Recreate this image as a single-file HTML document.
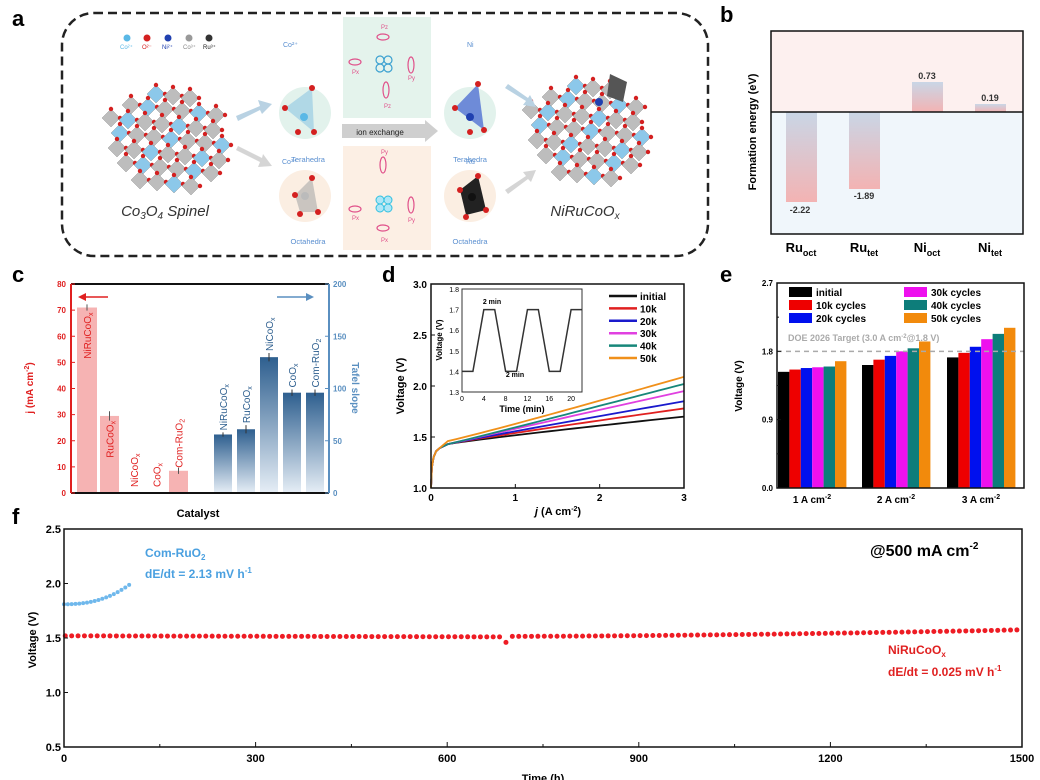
<!DOCTYPE html>
<html><head><meta charset="utf-8">
<style>
html,body{margin:0;padding:0;background:#fff;}
svg{display:block;font-family:"Liberation Sans",Arial,sans-serif;}
.b{font-weight:bold;}
</style></head>
<body>
<svg id="s" width="1040" height="780" viewBox="0 0 1040 780" xmlns="http://www.w3.org/2000/svg">
<defs>
<linearGradient id="gb" x1="0" y1="0" x2="0" y2="1"><stop offset="0" stop-color="#c9d6e6"/><stop offset="1" stop-color="#f3b3b3"/></linearGradient>
<linearGradient id="gblue" x1="0" y1="0" x2="0" y2="1"><stop offset="0" stop-color="#2e5f8f"/><stop offset="1" stop-color="#e6eef6"/></linearGradient>
</defs>
<text x="12" y="26" font-size="22" class="b">a</text>
<text x="720" y="22" font-size="22" class="b">b</text>
<text x="12" y="282" font-size="22" class="b">c</text>
<text x="382" y="282" font-size="22" class="b">d</text>
<text x="720" y="282" font-size="22" class="b">e</text>
<text x="12" y="524" font-size="22" class="b">f</text>

<!-- PANEL A -->
<rect x="62" y="13" width="646" height="243" rx="32" fill="none" stroke="#222" stroke-width="2.5" stroke-dasharray="9,5"/>
<g font-size="6">
<circle cx="127" cy="38" r="3.5" fill="#5ab8e6"/><circle cx="147" cy="38" r="3.5" fill="#d42020"/><circle cx="168" cy="38" r="3.5" fill="#2040b0"/><circle cx="189" cy="38" r="3.5" fill="#999"/><circle cx="209" cy="38" r="3.5" fill="#333"/>
<text x="120" y="49" fill="#5ab8e6">Co²⁺</text><text x="142" y="49" fill="#d42020">O²⁻</text><text x="162" y="49" fill="#2040b0">Ni²⁺</text><text x="183" y="49" fill="#888">Co³⁺</text><text x="203" y="49" fill="#222">Ru³⁺</text>
</g>
<g id="crys1"></g>
<text x="165" y="216" font-size="15" font-style="italic" text-anchor="middle" fill="#333">Co<tspan font-size="10" dy="3">3</tspan><tspan dy="-3">O</tspan><tspan font-size="10" dy="3">4</tspan><tspan dy="-3"> Spinel</tspan></text>
<text x="585" y="216" font-size="15" font-style="italic" text-anchor="middle" fill="#333">NiRuCoO<tspan font-size="10" dy="3">x</tspan></text>
<polygon points="236,116 260,106 258,100 272,104 262,114 260,110 238,121" fill="#b9d2e3"/>
<polygon points="236,150 260,162 258,167 272,166 263,154 262,158 238,146" fill="#d5d5d5"/>
<polygon points="505,88 526,101 523,105 536,107 530,95 528,98 508,84" fill="#b9d2e3"/>
<polygon points="505,190 526,176 523,172 536,170 531,182 528,179 508,194" fill="#d5d5d5"/>
<circle cx="305" cy="113" r="26" fill="#e2f2ec"/><circle cx="305" cy="196" r="26" fill="#fbeee2"/>
<circle cx="470" cy="113" r="26" fill="#e2f2ec"/><circle cx="470" cy="196" r="26" fill="#fbeee2"/>
<polygon points="285,108 312,88 314,132" fill="#8fc6e2" opacity=".6"/>
<polygon points="455,108 478,84 484,130" fill="#3d5fd0" opacity=".7"/>
<polygon points="295,195 312,178 318,212 300,212" fill="#aaa" opacity=".6"/>
<polygon points="460,190 478,176 486,210 466,215" fill="#222"/>
<g fill="#d42020"><circle cx="285" cy="108" r="3"/><circle cx="312" cy="88" r="3"/><circle cx="314" cy="132" r="3"/><circle cx="298" cy="132" r="3"/>
<circle cx="455" cy="108" r="3"/><circle cx="478" cy="84" r="3"/><circle cx="484" cy="130" r="3"/><circle cx="470" cy="132" r="3"/>
<circle cx="295" cy="195" r="3"/><circle cx="312" cy="178" r="3"/><circle cx="318" cy="212" r="3"/><circle cx="300" cy="214" r="3"/>
<circle cx="460" cy="190" r="3"/><circle cx="478" cy="176" r="3"/><circle cx="486" cy="210" r="3"/><circle cx="466" cy="217" r="3"/></g>
<circle cx="304" cy="117" r="4" fill="#5ab8e6"/><circle cx="470" cy="117" r="4" fill="#2040b0"/><circle cx="305" cy="196" r="4" fill="#bbb"/><circle cx="472" cy="197" r="4" fill="#111"/>
<g font-size="7" fill="#5a8fd0"><text x="283" y="47">Co²⁺</text><text x="282" y="164">Co³⁺</text><text x="467" y="47">Ni</text><text x="466" y="164">Ru</text></g>
<g font-size="7.5" fill="#5a8fd0" text-anchor="middle"><text x="308" y="162">Terahedra</text><text x="308" y="244">Octahedra</text><text x="470" y="162">Terahedra</text><text x="470" y="244">Octahedra</text></g>
<rect x="343" y="17" width="88" height="101" fill="#e4f3ec"/>
<rect x="343" y="146" width="88" height="104" fill="#fcefe4"/>
<polygon points="342,124 425,124 425,120 438,131 425,142 425,138 342,138" fill="#cfcfcf"/>
<text x="380" y="135" font-size="8" text-anchor="middle" fill="#222">ion exchange</text>
<g fill="none" stroke="#e0508a" stroke-width="1.2">
<ellipse cx="383" cy="37" rx="6" ry="3"/><ellipse cx="355" cy="62" rx="6" ry="3"/><ellipse cx="411" cy="65" rx="3" ry="8"/><ellipse cx="386" cy="90" rx="3" ry="8"/>
<ellipse cx="383" cy="165" rx="3" ry="8"/><ellipse cx="355" cy="209" rx="6" ry="3"/><ellipse cx="411" cy="205" rx="3" ry="8"/><ellipse cx="383" cy="228" rx="6" ry="3"/></g>
<g fill="none" stroke="#3aa0d0" stroke-width="1.2"><circle cx="380" cy="60" r="4"/><circle cx="388" cy="60" r="4"/><circle cx="380" cy="68" r="4"/><circle cx="388" cy="68" r="4"/></g>
<g fill="#aee6f6" stroke="#30c0e0" stroke-width="1"><circle cx="380" cy="200" r="4"/><circle cx="388" cy="200" r="4"/><circle cx="380" cy="208" r="4"/><circle cx="388" cy="208" r="4"/></g>
<g font-size="6" fill="#e0508a"><text x="381" y="29">Pz</text><text x="352" y="74">Px</text><text x="408" y="80">Py</text><text x="384" y="108">Pz</text><text x="381" y="154">Py</text><text x="352" y="220">Px</text><text x="408" y="222">Py</text><text x="381" y="242">Px</text></g>

<!-- PANEL B -->
<rect x="771" y="31" width="252" height="81" fill="#fdf0ef"/>
<rect x="771" y="112" width="252" height="122" fill="#f0f6fb"/>
<rect x="786" y="112" width="31" height="90" fill="url(#gb)"/>
<rect x="849" y="112" width="31" height="77" fill="url(#gb)"/>
<rect x="912" y="82" width="31" height="30" fill="url(#gb)"/>
<rect x="975" y="104" width="31" height="8" fill="url(#gb)"/>
<line x1="771" y1="112" x2="1023" y2="112" stroke="#111" stroke-width="1.5"/>
<rect x="771" y="31" width="252" height="203" fill="none" stroke="#111" stroke-width="1.5"/>
<g font-size="9" class="b" text-anchor="middle" fill="#333"><text x="800" y="213">-2.22</text><text x="864" y="199">-1.89</text><text x="927" y="79">0.73</text><text x="990" y="101">0.19</text></g>
<g font-size="13" class="b" text-anchor="middle"><text x="801" y="252">Ru<tspan font-size="9" dy="4">oct</tspan></text><text x="864" y="252">Ru<tspan font-size="9" dy="4">tet</tspan></text><text x="927" y="252">Ni<tspan font-size="9" dy="4">oct</tspan></text><text x="990" y="252">Ni<tspan font-size="9" dy="4">tet</tspan></text></g>
<text transform="translate(756,132) rotate(-90)" font-size="11" class="b" text-anchor="middle">Formation energy (eV)</text>

<g id="pc"></g>
<g id="pd"></g>
<g id="pe"></g>
<g id="pf"></g>
</svg>
<script>
var NS="http://www.w3.org/2000/svg";
function el(p,t,a,txt){var e=document.createElementNS(NS,t);for(var k in a)e.setAttribute(k,a[k]);if(txt!==undefined)e.innerHTML=txt;document.getElementById(p).appendChild(e);return e;}
(function(){
 function crystal(cx,cy,seed,extra){
  for(var i=0;i<7;i++)for(var j=0;j<7;j++){
   var x=cx-60+i*17+j*3+ (j%2)*6, y=cy-52+j*15+i*2;
   var dx=x-cx,dy=y-cy;if(dx*dx/3600+dy*dy/2800>1)continue;
   var col=((i+j)%3==0)?"#8cc8ea":"#bdbdbd";
   el("crys1","polygon",{points:(x)+","+(y-9)+" "+(x+9)+","+y+" "+x+","+(y+9)+" "+(x-9)+","+y,fill:col,stroke:"#888","stroke-width":.4});
   el("crys1","circle",{cx:x,cy:y-9,r:2.2,fill:"#d42020"});
   el("crys1","circle",{cx:x+9,cy:y,r:2.2,fill:"#d42020"});
  }
  if(extra){el("crys1","polygon",{points:(cx+25)+","+(cy-58)+" "+(cx+42)+","+(cy-50)+" "+(cx+38)+","+(cy-30)+" "+(cx+22)+","+(cy-36),fill:"#555"});
   el("crys1","circle",{cx:cx+14,cy:cy-30,r:4,fill:"#2040b0"});}
 }
 crystal(165,140,7,false);crystal(585,132,11,true);
})();
// PANEL C
(function(){
 var L=71,R=329,T=284,B=493;function yl(v){return B-v/80*(B-T);}function yr(v){return B-v/200*(B-T);}
 var red=[[77,97,71,1.2,"NiRuCoO<tspan font-size='7' dy='2'>x</tspan>"],[100,119,29.5,1.8,"RuCoO<tspan font-size='7' dy='2'>x</tspan>"],[124,144,0,0,"NiCoO<tspan font-size='7' dy='2'>x</tspan>"],[147,166,0,0,"CoO<tspan font-size='7' dy='2'>x</tspan>"],[169,188,8.5,1.2,"Com-RuO<tspan font-size='7' dy='2'>2</tspan>"]];
 red.forEach(function(b){ if(b[2]>0){el("pc","rect",{x:b[0],y:yl(b[2]),width:b[1]-b[0],height:B-yl(b[2]),fill:"#f6b3b3"});
   el("pc","line",{x1:(b[0]+b[1])/2,x2:(b[0]+b[1])/2,y1:yl(b[2]+b[3]),y2:yl(b[2]-b[3]),stroke:"#555"});}
  var tx=(b[0]+b[1])/2+4, ty=b[2]>20?yl(b[2])+5:(b[2]>0?yl(b[2])-3:B-6);
  var anchor=b[2]>20?"end":"start";
  el("pc","text",{transform:"translate("+tx+","+ty+") rotate(-90)","font-size":10,fill:"#e02020","text-anchor":anchor},b[4]);});
 var blue=[[214,232,56,2,"NiRuCoO<tspan font-size='7' dy='2'>x</tspan>"],[237,255,61,4,"RuCoO<tspan font-size='7' dy='2'>x</tspan>"],[260,278,130,4,"NiCoO<tspan font-size='7' dy='2'>x</tspan>"],[283,301,96,3,"CoO<tspan font-size='7' dy='2'>x</tspan>"],[306,324,96,3,"Com-RuO<tspan font-size='7' dy='2'>2</tspan>"]];
 blue.forEach(function(b){el("pc","rect",{x:b[0],y:yr(b[2]),width:b[1]-b[0],height:B-yr(b[2]),fill:"url(#gblue)"});
  el("pc","line",{x1:(b[0]+b[1])/2,x2:(b[0]+b[1])/2,y1:yr(b[2]+b[3]),y2:yr(b[2]-b[3]),stroke:"#333"});
  el("pc","text",{transform:"translate("+((b[0]+b[1])/2+4)+","+(yr(b[2]+b[3])-2)+") rotate(-90)","font-size":10,fill:"#2e5f8f"},b[4]);});
 el("pc","line",{x1:L,x2:R,y1:T,y2:T,stroke:"#111","stroke-width":2});
 el("pc","line",{x1:L,x2:R,y1:B,y2:B,stroke:"#111","stroke-width":2});
 el("pc","line",{x1:L,x2:L,y1:T,y2:B,stroke:"#e02020","stroke-width":2});
 el("pc","line",{x1:R,x2:R,y1:T,y2:B,stroke:"#5a8fc0","stroke-width":2});
 for(var v=0;v<=80;v+=10){el("pc","line",{x1:L,x2:L+4,y1:yl(v),y2:yl(v),stroke:"#e02020"});el("pc","text",{x:L-5,y:yl(v)+3,"font-size":8,"text-anchor":"end",fill:"#e02020",class:"b"},v);}
 for(var v=0;v<=200;v+=50){el("pc","line",{x1:R,x2:R-4,y1:yr(v),y2:yr(v),stroke:"#5a8fc0"});el("pc","text",{x:R+4,y:yr(v)+3,"font-size":8,fill:"#5a8fc0",class:"b"},v);}
 el("pc","text",{transform:"translate(33,388) rotate(-90)","font-size":10,"text-anchor":"middle",fill:"#e02020",class:"b"},"j (mA cm<tspan font-size='7' dy='-4'>-2</tspan><tspan dy='4'>)</tspan>");
 el("pc","text",{transform:"translate(352,388) rotate(90)","font-size":10,"text-anchor":"middle",fill:"#5a8fc0",class:"b"},"Tafel slope");
 el("pc","text",{x:198,y:517,"font-size":11,"text-anchor":"middle",class:"b"},"Catalyst");
 el("pc","line",{x1:80,x2:108,y1:297,y2:297,stroke:"#e02020","stroke-width":1.5});
 el("pc","polygon",{points:"78,297 86,293 86,301",fill:"#e02020"});
 el("pc","line",{x1:277,x2:308,y1:297,y2:297,stroke:"#5a8fc0","stroke-width":1.5});
 el("pc","polygon",{points:"314,297 306,293 306,301",fill:"#5a8fc0"});
})();
// PANEL D
(function(){
 var L=431,R=684,T=284,B=488;function X(j){return L+j/3*(R-L);}function Y(v){return B-(v-1)/2*(B-T);}
 var cols=["#111","#e02020","#1a1acc","#e040e0","#17877a","#f0901a"],ends=[1.70,1.78,1.85,1.95,2.02,2.09],names=["initial","10k","20k","30k","40k","50k"];
 for(var c=0;c<6;c++){var d="M"+X(0)+","+Y(1.0);var pts=[[0.01,1.2],[0.03,1.3],[0.06,1.36],[0.1,1.39],[0.2,1.43+(c==5?0.03:0)]];
  pts.forEach(function(p){d+=" L"+X(p[0])+","+Y(p[1]);});
  var s=1.43+(c==5?0.03:0);for(var j=0.3;j<=3.001;j+=0.1){var v=s+(ends[c]-s)*Math.pow((j-0.2)/2.8,0.9+ c*0.03);d+=" L"+X(j)+","+Y(v);}
  el("pd","path",{d:d,fill:"none",stroke:cols[c],"stroke-width":1.8});
  el("pd","line",{x1:609,x2:637,y1:296+c*12.4,y2:296+c*12.4,stroke:cols[c],"stroke-width":2.5});
  el("pd","text",{x:640,y:300+c*12.4,"font-size":10,class:"b"},names[c]);}
 el("pd","rect",{x:L,y:T,width:R-L,height:B-T,fill:"none",stroke:"#111","stroke-width":1.5});
 [1.0,1.5,2.0,2.5,3.0].forEach(function(v){el("pd","line",{x1:L,x2:L+4,y1:Y(v),y2:Y(v),stroke:"#111"});el("pd","text",{x:L-4,y:Y(v)+4,"font-size":10,"text-anchor":"end",class:"b"},v.toFixed(1));});
 [0,1,2,3].forEach(function(j){el("pd","line",{x1:X(j),x2:X(j),y1:B,y2:B-4,stroke:"#111"});el("pd","text",{x:X(j),y:B+13,"font-size":10,"text-anchor":"middle",class:"b"},j);});
 el("pd","text",{x:558,y:515,"font-size":11,"text-anchor":"middle",class:"b"},"<tspan font-style='italic'>j</tspan> (A cm<tspan font-size='7' dy='-4'>-2</tspan><tspan dy='4'>)</tspan>");
 el("pd","text",{transform:"translate(404,386) rotate(-90)","font-size":11,"text-anchor":"middle",class:"b"},"Voltage (V)");
 var iL=462,iR=582,iT=289,iB=392;function ix(t){return iL+t/22*(iR-iL);}function iy(v){return iB-(v-1.3)/0.5*(iB-iT);}
 el("pd","rect",{x:iL,y:iT,width:iR-iL,height:iB-iT,fill:"#fff",stroke:"#333"});
 var pts=[[0,1.4],[2,1.4],[4,1.7],[6,1.7],[8,1.4],[10,1.4],[12,1.7],[14,1.7],[16,1.4],[18,1.4],[20,1.7],[22,1.7]];
 el("pd","polyline",{points:pts.map(function(p){return ix(p[0])+","+iy(p[1]);}).join(" "),fill:"none",stroke:"#333","stroke-width":1.5});
 [1.3,1.4,1.5,1.6,1.7,1.8].forEach(function(v){el("pd","text",{x:iL-3,y:iy(v)+3,"font-size":7,"text-anchor":"end"},v.toFixed(1));});
 [0,4,8,12,16,20].forEach(function(t){el("pd","text",{x:ix(t),y:iB+9,"font-size":7,"text-anchor":"middle"},t);});
 el("pd","text",{x:522,y:412,"font-size":9,"text-anchor":"middle",class:"b"},"Time (min)");
 el("pd","text",{transform:"translate(442,340) rotate(-90)","font-size":8,"text-anchor":"middle",class:"b"},"Voltage (V)");
 el("pd","text",{x:492,y:304,"font-size":7,"text-anchor":"middle",class:"b"},"2 min");
 el("pd","text",{x:515,y:377,"font-size":7,"text-anchor":"middle",class:"b"},"2 min");
})();
// PANEL E
(function(){
 var L=777,R=1024,T=283,B=488;function Y(v){return B-v/2.7*(B-T);}
 var cols=["#000","#ee0000","#0010ee","#ee10ee","#0d7d7a","#f28a0c"];
 var vals=[[1.53,1.56,1.58,1.59,1.6,1.67],[1.62,1.69,1.74,1.80,1.84,1.93],[1.72,1.78,1.86,1.96,2.03,2.11]];
 var gx=[778,862,947];
 vals.forEach(function(g,gi){g.forEach(function(v,i){el("pe","rect",{x:gx[gi]+i*11.4,y:Y(v),width:11.4,height:B-Y(v),fill:cols[i]});});});
 el("pe","line",{x1:L,x2:R,y1:Y(1.8),y2:Y(1.8),stroke:"#aaa","stroke-width":1.5,"stroke-dasharray":"5,4"});
 el("pe","text",{x:788,y:341,"font-size":9,fill:"#aaa",class:"b"},"DOE 2026 Target (3.0 A cm<tspan font-size='6' dy='-3'>-2</tspan><tspan dy='3'>@1.8 V)</tspan>");
 var names=["initial","10k cycles","20k cycles","30k cycles","40k cycles","50k cycles"];
 for(var i=0;i<6;i++){var cx=i<3?789:904,cy=287+(i%3)*13;el("pe","rect",{x:cx,y:cy,width:23,height:10,fill:cols[i]});el("pe","text",{x:cx+27,y:cy+9,"font-size":10,class:"b"},names[i]);}
 el("pe","rect",{x:L,y:T,width:R-L,height:B-T,fill:"none",stroke:"#111","stroke-width":1.5});
 [0,0.9,1.8,2.7].forEach(function(v){el("pe","line",{x1:L,x2:L+4,y1:Y(v),y2:Y(v),stroke:"#111"});el("pe","text",{x:L-4,y:Y(v)+3,"font-size":8,"text-anchor":"end",class:"b"},v.toFixed(1));});
 [0.45,1.35,2.25].forEach(function(v){el("pe","line",{x1:L,x2:L+2,y1:Y(v),y2:Y(v),stroke:"#111"});});
 [812,896,981].forEach(function(x,i){el("pe","text",{x:x,y:503,"font-size":10,"text-anchor":"middle",class:"b"},(i+1)+" A cm<tspan font-size='7' dy='-4'>-2</tspan>");});
 el("pe","text",{transform:"translate(742,386) rotate(-90)","font-size":10,"text-anchor":"middle",class:"b"},"Voltage (V)");
})();
// PANEL F
(function(){
 var L=64,R=1022,T=529,B=747;function X(t){return L+t/1500*(R-L);}function Y(v){return B-(v-0.5)/2*(B-T);}
 for(var t=0;t<=105;t+=6){var v=1.81+0.19*Math.pow(t/105,2.4);el("pf","circle",{cx:X(t),cy:Y(v),r:2,fill:"#6fb8ec"});}
 for(var t=2;t<=1500;t+=10){var v;if(t<700)v=1.52-0.01*(t/700);else v=1.515+0.06*Math.pow((t-700)/800,1.6);
  if(Math.abs(t-690)<5)v=1.46;el("pf","circle",{cx:X(t),cy:Y(v),r:2.5,fill:"#ee1c24"});}
 el("pf","rect",{x:L,y:T,width:R-L,height:B-T,fill:"none",stroke:"#111","stroke-width":1.5});
 [0.5,1.0,1.5,2.0,2.5].forEach(function(v){el("pf","line",{x1:L,x2:L+4,y1:Y(v),y2:Y(v),stroke:"#111"});el("pf","text",{x:L-3,y:Y(v)+4,"font-size":11,"text-anchor":"end",class:"b"},v.toFixed(1));});
 for(var t=0;t<=1500;t+=150){var big=t%300==0;el("pf","line",{x1:X(t),x2:X(t),y1:B,y2:B-(big?5:3),stroke:"#111"});if(big)el("pf","text",{x:X(t),y:B+15,"font-size":11,"text-anchor":"middle",class:"b"},t);}
 el("pf","text",{x:543,y:782,"font-size":11,"text-anchor":"middle",class:"b"},"Time (h)");
 el("pf","text",{transform:"translate(36,640) rotate(-90)","font-size":11,"text-anchor":"middle",class:"b"},"Voltage (V)");
 el("pf","text",{x:145,y:557,"font-size":12,fill:"#4aa0e0",class:"b"},"Com-RuO<tspan font-size='8' dy='3'>2</tspan>");
 el("pf","text",{x:145,y:578,"font-size":12,fill:"#4aa0e0",class:"b"},"dE/dt = 2.13 mV h<tspan font-size='8' dy='-5'>-1</tspan>");
 el("pf","text",{x:870,y:556,"font-size":16,class:"b"},"@500 mA cm<tspan font-size='10' dy='-7'>-2</tspan>");
 el("pf","text",{x:888,y:654,"font-size":12,fill:"#e02020",class:"b"},"NiRuCoO<tspan font-size='8' dy='3'>x</tspan>");
 el("pf","text",{x:888,y:676,"font-size":12,fill:"#e02020",class:"b"},"dE/dt = 0.025 mV h<tspan font-size='8' dy='-5'>-1</tspan>");
})();
</script>
</body></html>
